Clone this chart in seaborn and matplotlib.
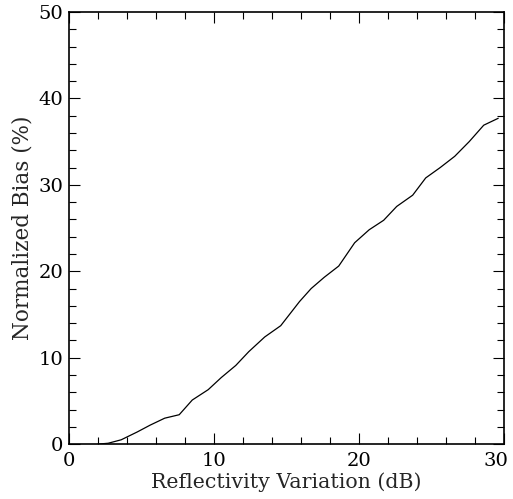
import matplotlib
matplotlib.use("Agg")
import matplotlib.pyplot as plt
import matplotlib.transforms as mtransforms
import seaborn as sns
import pandas as pd
from matplotlib.ticker import MultipleLocator

variation_db = [2.0, 2.7, 3.6, 4.7, 5.6, 6.6, 7.6, 8.5, 9.6, 10.5, 11.5, 12.4, 13.5,
                14.6, 15.9, 16.7, 17.6, 18.6, 19.7, 20.7, 21.7, 22.6, 23.7, 24.6,
                25.6, 26.6, 27.6, 28.6, 29.6]
bias_pct = [0.0, 0.1, 0.5, 1.4, 2.2, 3.0, 3.4, 5.1, 6.3, 7.7, 9.1, 10.7, 12.4,
            13.7, 16.5, 18.0, 19.3, 20.6, 23.3, 24.8, 25.9, 27.5, 28.8, 30.8,
            32.0, 33.3, 35.0, 36.9, 37.7]

df = pd.DataFrame({"x": variation_db, "y": bias_pct})

sns.set_style("ticks")
plt.rcParams["font.family"] = ["DejaVu Serif"]

fig = plt.figure(figsize=(5.13, 4.99), dpi=100)
ax = fig.add_axes([0.1345, 0.110, 0.848, 0.866])
sns.lineplot(data=df, x="x", y="y", ax=ax, color="black", linewidth=0.9, sort=False)

ax.set_xlim(0, 30)
ax.set_ylim(0, 50)
ax.set_xticks([0, 10, 20, 30])
ax.set_yticks([0, 10, 20, 30, 40, 50])
ax.xaxis.set_minor_locator(MultipleLocator(2))
ax.yaxis.set_minor_locator(MultipleLocator(2))
ax.tick_params(which="both", direction="in", top=True, right=True, width=0.8, colors="black",
               labelsize=14)
ax.tick_params(axis="x", pad=6)
ax.tick_params(axis="y", pad=4)
ax.tick_params(which="major", length=8)
ax.tick_params(which="minor", length=5)
for s in ax.spines.values():
    s.set_visible(True)
    s.set_linewidth(1.2)
    s.set_color("black")
ax.set_xlabel("Reflectivity Variation (dB)", fontsize=14.8, labelpad=1)
ax.set_ylabel("Normalized Bias (%)", fontsize=15.5, labelpad=4)

fig.canvas.draw()
for lab in ax.get_xticklabels():
    if lab.get_text() == "30":
        lab.set_horizontalalignment("right")
        lab.set_transform(lab.get_transform() + mtransforms.ScaledTranslation(4 / 100, 0, fig.dpi_scale_trans))

fig.savefig("out.png", dpi=100)
